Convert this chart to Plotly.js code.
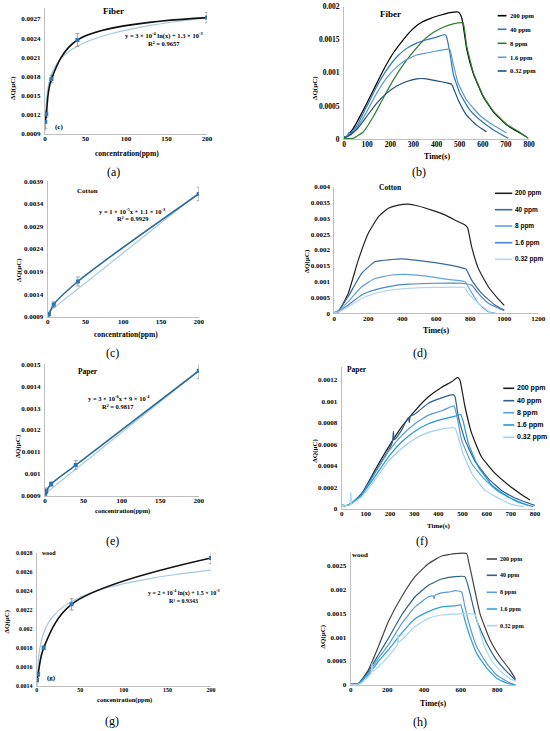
<!DOCTYPE html>
<html><head><meta charset="utf-8">
<script src="https://cdn.plot.ly/plotly-3.0.1.min.js"></script>
<style>html,body{margin:0;padding:0;background:#fff}#plot{width:550px;height:731px}</style>
</head><body><div id="plot"></div>
<script>
// ---------- data: calibration panels ----------
const conc = [0.32, 1.6, 8, 40, 200];
const fiberQ = [0.00109, 0.00121, 0.00176, 0.00237, 0.00272];
const fiberErr = [0.0001, 0.00005, 0.00006, 0.0001, 0.00008];
const cottonQ = [0.00092, 0.00096, 0.00117, 0.00168, 0.00362];
const cottonErr = [0.00002, 0.00003, 0.00006, 0.0001, 0.00015];
const paperQ = [0.000905, 0.00092, 0.000953, 0.00104, 0.00147];
const paperErr = [0.00003, 0.00001, 0.00001, 0.00002, 0.000034];
const woodQ = [0.00146, 0.00152, 0.0018, 0.00226, 0.00275];
const woodErr = [0.00002, 0.00002, 0.00002, 0.00006, 0.00006];

const logTrendX = [0.32,0.6,1,1.6,2.5,4,6,8,12,16,20,30,40,60,80,100,130,160,200];
const fiberTrendY = [0.000946,0.001119,0.001259,0.001388,0.001511,0.00164,0.001752,0.001831,0.001942,0.002022,0.002083,0.002194,0.002273,0.002385,0.002464,0.002525,0.002598,0.002655,0.002716];
const woodTrendY = [0.001294,0.001424,0.001529,0.001626,0.001718,0.001815,0.001899,0.001958,0.002042,0.002101,0.002147,0.002231,0.00229,0.002374,0.002433,0.002479,0.002533,0.002576,0.002622];
const linTrendX = [0.32, 200];
const cottonTrendY = [0.00099, 0.00364];
const paperTrendY = [0.00091, 0.00147];

// ---------- data: time responses ----------
const seriesNames = ['200 ppm','40 ppm','8 ppm','1.6 ppm','0.32 ppm'];

const fib200T = [0,11,40,84,127,170,213,256,285,329,372,415,458,494,505,513,531,559,602,646,704,761,790];
const fib200V = [0.00002,0.00004,0.00016,0.00044,0.00074,0.00104,0.0013,0.0015,0.00162,0.00175,0.00182,0.00187,0.00191,0.00192,0.00187,0.00177,0.00135,0.00099,0.00064,0.00041,0.00021,0.00009,0.00003];
const fib40T = [0,11,54,98,141,184,228,271,314,357,400,436,443,458,472,501,544,587,645,710];
const fib40V = [0.00003,0.00003,0.00019,0.00049,0.00079,0.00104,0.00124,0.00137,0.00145,0.0015,0.00154,0.00158,0.00155,0.0013,0.00099,0.00069,0.00044,0.00029,0.00014,0.00001];
const fib8T = [0,40,84,127,170,213,256,300,343,386,429,472,508,516,531,559,602,646,704,761,797];
const fib8V = [0.00001,0.00001,0.00011,0.00034,0.00062,0.00089,0.00112,0.00132,0.00149,0.00161,0.00169,0.00174,0.00176,0.00175,0.0014,0.00101,0.00065,0.00042,0.00022,0.0001,0.00001];
const fib1p6T = [0,15,20,30,54,98,141,184,228,271,314,357,400,450,458,472,494,530,587,645,703];
const fib1p6V = [0.00003,0.00004,0.0001,0.00006,0.00016,0.00041,0.00069,0.00092,0.00109,0.0012,0.00127,0.0013,0.00133,0.00136,0.00135,0.00114,0.00084,0.00059,0.00036,0.00021,0.00009];
const fib032T = [0,11,54,98,141,184,228,271,314,357,400,443,465,472,494,530,573,616];
const fib032V = [0.00003,0.00003,0.00014,0.00034,0.00054,0.00069,0.0008,0.00087,0.00091,0.00091,0.00088,0.00085,0.00083,0.00078,0.00059,0.00036,0.00021,0.00011];

const cot200T = [0,24,82,141,200,259,318,377,435,494,573,651,729,769,784,808,847,906,965,1000];
const cot200V = [0.00002,0.00005,0.00063,0.00168,0.00253,0.00305,0.00332,0.00342,0.00345,0.00339,0.00326,0.00311,0.00289,0.00279,0.0027,0.0021,0.00142,0.00084,0.00045,0.00025];
const cot40T = [0,24,82,161,239,337,396,475,592,710,775,808,867,945,1000];
const cot40V = [0.00002,0.00008,0.00053,0.00126,0.00163,0.0017,0.00172,0.00168,0.0016,0.00149,0.00139,0.00105,0.00063,0.00026,0.0001];
const cot8T = [0,24,82,161,239,337,416,533,671,769,798,847,906,950];
const cot8V = [0.00002,0.00007,0.00037,0.00084,0.0011,0.00121,0.00123,0.00118,0.00107,0.001,0.00074,0.00032,0.00005,0];
const cot1p6T = [0,24,82,161,239,337,435,592,749,808,847,906,1000];
const cot1p6V = [0.00002,0.00005,0.00026,0.00058,0.00074,0.00086,0.00092,0.00095,0.00095,0.00089,0.00063,0.00032,0.00008];
const cot032T = [0,24,82,161,239,337,435,592,769,788,847,925];
const cot032V = [0.00002,0.00004,0.00021,0.00047,0.00063,0.00074,0.00079,0.00082,0.00081,0.00063,0.00032,0];

const pap200T = [0,20,41,83,138,193,248,303,359,414,455,480,490,510,538,579,634,690,745,779];
const pap200V = [0.00003,0.00003,0.00005,0.00014,0.00036,0.00057,0.00076,0.00091,0.00104,0.00113,0.00118,0.00122,0.00119,0.00095,0.0007,0.00048,0.00033,0.00022,0.00013,0.00008];
const pap40T = [0,20,41,83,138,193,210,214,218,248,276,280,284,303,359,414,462,469,483,510,552,607,662,717,800];
const pap40V = [0.00003,0.00003,0.00005,0.00014,0.00034,0.00054,0.00062,0.00072,0.00064,0.00073,0.00085,0.0008,0.00086,0.00088,0.00098,0.00103,0.00106,0.00104,0.00085,0.00064,0.00044,0.00028,0.00017,0.0001,0.00003];
const pap8T = [0,20,41,83,138,193,248,303,359,414,455,465,476,496,538,593,648,717,772];
const pap8V = [0.00003,0.00003,0.00005,0.00013,0.00033,0.00053,0.00068,0.00079,0.00087,0.00091,0.00095,0.000955,0.00087,0.00064,0.00042,0.00027,0.00016,0.00008,0.00003];
const pap1p6T = [0,20,41,83,138,193,248,303,359,414,469,492,503,524,565,621,676,731,793];
const pap1p6V = [0.00003,0.00003,0.00005,0.00013,0.0003,0.00048,0.00062,0.00072,0.00079,0.00083,0.00086,0.000875,0.00081,0.00061,0.00039,0.00022,0.00013,0.00006,0.00002];
const pap032T = [0,20,36,38,41,83,138,193,248,303,359,414,469,480,503,538,593,648,703,752];
const pap032V = [0.00003,0.00003,0.00004,0.00015,0.00005,0.00011,0.00027,0.00044,0.00056,0.00065,0.00071,0.00074,0.00075,0.00068,0.00051,0.00033,0.00017,0.0001,0.00004,0.00002];

const wood200T = [0,42,96,151,205,278,351,424,496,569,633,642,669,705,760,814,869,900];
const wood200V = [0.00002,0.00003,0.00031,0.0008,0.00132,0.00184,0.00226,0.00253,0.00269,0.00274,0.00274,0.0026,0.00212,0.00149,0.00094,0.00059,0.00031,0.00012];
const wood40T = [0,42,96,151,205,278,351,424,496,569,623,651,687,742,796,851,900];
const wood40V = [0.00002,0.00003,0.00028,0.00063,0.00097,0.00146,0.00184,0.00208,0.00221,0.00226,0.00226,0.00191,0.00135,0.00087,0.00052,0.00028,0.0001];
const wood8T = [0,42,96,151,205,278,351,424,450,455,460,496,550,569,605,623,651,687,742,796,869,900];
const wood8V = [0.00002,0.00002,0.00024,0.00056,0.00083,0.00128,0.00163,0.00184,0.00186,0.0018,0.00187,0.00192,0.00195,0.00197,0.00194,0.00163,0.00121,0.0008,0.00045,0.00021,0.00004,0];
const wood1p6T = [0,42,96,151,205,278,351,424,496,569,600,623,651,687,742,796,851,900];
const wood1p6V = [0.00002,0.00003,0.00021,0.00049,0.00073,0.00108,0.00138,0.00153,0.00163,0.00165,0.00167,0.00135,0.00101,0.00066,0.00035,0.00014,0.00004,0];
const wood032T = [0,50,96,112,116,122,151,205,255,258,262,278,351,424,496,569,640,678,700,730,770,820,870,905];
const wood032V = [0.00001,0.00002,0.00017,0.00026,0.00045,0.00028,0.00038,0.00059,0.00085,0.00105,0.0009,0.00094,0.00122,0.00139,0.00146,0.00148,0.00149,0.00147,0.00118,0.0008,0.0005,0.00028,0.00013,0.00007];

// ---------- tick labels ----------
const concTicks = [0, 50, 100, 150, 200];
const fiberYTicks = ['0.0009','0.0012','0.0015','0.0018','0.0021','0.0024','0.0027'];
const cottonYTicks = ['0.0009','0.0014','0.0019','0.0024','0.0029','0.0034','0.0039'];
const paperYTicks = ['0.0009','0.001','0.0011','0.0012','0.0013','0.0014','0.0015'];
const woodYTicks = ['0.0014','0.0016','0.0018','0.002','0.0022','0.0024','0.0026','0.0028'];
const fibTimeYTicks = ['0','0.0005','0.001','0.0015','0.002'];
const cotTimeYTicks = ['0','0.0005','0.001','0.0015','0.002','0.0025','0.003','0.0035','0.004'];
const papTimeYTicks = ['0','0.0002','0.0004','0.0006','0.0008','0.001','0.0012'];
const woodTimeYTicks = ['0','0.0005','0.001','0.0015','0.002','0.0025'];
const fibTimeXTicks = [0,100,200,300,400,500,600,700,800];
const cotTimeXTicks = [0,200,400,600,800,1000,1200];
const papTimeXTicks = [0,100,200,300,400,500,600,700,800];
const woodTimeXTicks = [0,200,400,600,800];

// ---------- helpers ----------
const W = 550, H = 731;
const SERIF = 'Liberation Serif, Times New Roman, serif';
const SANS = 'Liberation Sans, Arial, sans-serif';
const PX = x => x / W;
const PY = y => 1 - y / H;

const layout = {
  width: W, height: H, margin: {l:0, r:0, t:0, b:0},
  paper_bgcolor: '#fff', plot_bgcolor: 'rgba(0,0,0,0)',
  showlegend: false, annotations: [], shapes: []
};
const traces = [];

function axisBase(size, standoff) {
  return {showline:true, linecolor:'#BFBFBF', linewidth:1, showgrid:false, zeroline:false,
          ticks:'', ticklabelstandoff:standoff, fixedrange:true,
          tickfont:{family:SERIF, size:size||7, color:'#000', weight:'bold'}};
}
function addAxes(n, xpx, ypx, xr, yr, xt, yTxt, tsize) {
  const xs = n === 1 ? '' : String(n);
  const xa = Object.assign(axisBase(tsize, -2), {domain:[PX(xpx[0]), PX(xpx[1])], range:xr,
      anchor:'y'+xs, tickmode:'array', tickvals:xt, ticktext:xt.map(String)});
  const ya = Object.assign(axisBase(tsize, 2), {domain:[PY(ypx[1]), PY(ypx[0])], range:yr,
      anchor:'x'+xs, tickmode:'array', tickvals:yTxt.map(Number), ticktext:yTxt});
  layout['xaxis'+xs] = xa; layout['yaxis'+xs] = ya;
  return {x:'x'+xs, y:'y'+xs};
}
function ann(text, x, y, size, opt) {
  layout.annotations.push(Object.assign({text, x:PX(x), y:PY(y), xref:'paper', yref:'paper',
    showarrow:false, xanchor:'center', yanchor:'middle',
    font:{family:SERIF, size:size, color:'#000'}}, opt || {}));
}
function bold(text, x, y, size, opt) {
  ann(text, x, y, size, Object.assign({font:{family:SERIF, size:size, color:'#000', weight:'bold'}}, opt||{}));
}
function legend(x0, x1, ys, colors, family, size) {
  ys.forEach((y, i) => {
    layout.shapes.push({type:'line', xref:'paper', yref:'paper', x0:PX(x0), x1:PX(x1), y0:PY(y), y1:PY(y),
      line:{color:colors[i], width:1.6}});
    ann(seriesNames[i], x1 + 1, y, size, {xanchor:'left',
      font:{family:family, size:size, color:'#000', weight:'bold'}});
  });
}

const MARK = '#2E75B6', TREND = '#A3C9E0';
function calib(ax, y, err, lineColor, tx, ty) {
  traces.push({x:tx, y:ty, xaxis:ax.x, yaxis:ax.y, mode:'lines', type:'scatter',
    line:{color:TREND, width:1.2, shape:'spline', smoothing:0.6}, hoverinfo:'skip'});
  traces.push({x:conc, y:y, xaxis:ax.x, yaxis:ax.y, mode:'lines+markers', type:'scatter',
    line:{color:lineColor, width:1.6, shape:'spline', smoothing:1},
    marker:{symbol:'square', size:4, color:MARK},
    error_y:{type:'data', array:err, visible:true, color:'#8C8C8C', thickness:0.8, width:2}});
}
function timeSeries(ax, list, colors) {
  list.forEach((s, i) => traces.push({x:s[0], y:s[1], xaxis:ax.x, yaxis:ax.y, mode:'lines', type:'scatter',
    name:seriesNames[i], line:{color:colors[i], width:1.2, shape:'spline', smoothing:0.4}}));
}

// ---------- (a) fiber calibration ----------
const A = addAxes(1, [45,207], [8,134], [0,200], [0.0009,0.00287], concTicks, fiberYTicks, 7);
calib(A, fiberQ, fiberErr, '#111111', logTrendX, fiberTrendY);
// ---------- (b) fiber time ----------
const B = addAxes(2, [344,529], [6.7,139], [0,800], [0,0.002], fibTimeXTicks, fibTimeYTicks, 7.5);
const bCol = ['#000000','#2E75B6','#2E7D32','#5B9BD5','#1F4E79'];
timeSeries(B, [[fib200T,fib200V],[fib40T,fib40V],[fib8T,fib8V],[fib1p6T,fib1p6V],[fib032T,fib032V]], bCol);
// ---------- (c) cotton calibration ----------
const C = addAxes(3, [47.7,198.7], [181.3,316.7], [0,200], [0.0009,0.0039], concTicks, cottonYTicks, 7);
calib(C, cottonQ, cottonErr, '#2B6C98', linTrendX, cottonTrendY);
// ---------- (d) cotton time ----------
const D = addAxes(4, [334.3,538.3], [186.7,313.3], [0,1200], [0,0.004], cotTimeXTicks, cotTimeYTicks, 7);
const dCol = ['#222222','#3A6A9C','#5DA5E8','#4D86C6','#B5D6F2'];
timeSeries(D, [[cot200T,cot200V],[cot40T,cot40V],[cot8T,cot8V],[cot1p6T,cot1p6V],[cot032T,cot032V]], dCol);
// ---------- (e) paper calibration ----------
const E = addAxes(5, [45,198.7], [364.3,495.7], [0,200], [0.0009,0.0015], concTicks, paperYTicks, 7);
calib(E, paperQ, paperErr, '#2B6C98', linTrendX, paperTrendY);
// ---------- (f) paper time ----------
const F = addAxes(6, [341.7,535], [366.7,508.7], [0,800], [0,0.00132], papTimeXTicks, papTimeYTicks, 7);
const fCol = ['#1A1A1A','#2F5F8F','#5B9BD5','#1F9AD6','#9DD1F2'];
timeSeries(F, [[pap200T,pap200V],[pap40T,pap40V],[pap8T,pap8V],[pap1p6T,pap1p6V],[pap032T,pap032V]], fCol);
// ---------- (g) wood calibration ----------
const G = addAxes(7, [36.7,211], [553.3,685.7], [0,200], [0.0014,0.0028], concTicks, woodYTicks, 6);
calib(G, woodQ, woodErr, '#111111', logTrendX, woodTrendY);
// ---------- (h) wood time ----------
const Hh = addAxes(8, [350.7,515.7], [551.7,685], [0,900], [0,0.00278], woodTimeXTicks, woodTimeYTicks, 7);
const hCol = ['#444444','#2E6282','#5B9BD5','#2F9FD8','#A8D8F0'];
timeSeries(Hh, [[wood200T,wood200V],[wood40T,wood40V],[wood8T,wood8V],[wood1p6T,wood1p6V],[wood032T,wood032V]], hCol);

// ---------- texts ----------
const YT = 'ΔQ(μC)';
[[13,88],[315,88],[19,270],[307.3,261],[18.3,446],[315,450.7],[6.7,621.7],[322.7,636.7]]
  .forEach(p => bold(YT, p[0], p[1], 7, {textangle:-90}));
bold('concentration(ppm)', 126.7, 153.5, 7.5);
bold('concentration(ppm)', 125.7, 334.5, 7.5);
bold('concentration(ppm)', 122.3, 511, 6.5);
bold('concentration(ppm)', 124, 700, 6.5);
bold('Time(s)', 437, 156, 8);
bold('Time(s)', 436, 330.5, 8);
bold('Time(s)', 438, 525.5, 7);
bold('Time(s)', 432.7, 703, 8);

[['(a)',113,172],['(b)',419,172],['(c)',112,353],['(d)',420,353],['(e)',112,541],['(f)',422,541],['(g)',112,721],['(h)',420,722]]
  .forEach(p => ann(p[0], p[1], p[2], 12));

bold('Fiber', 113, 11, 9);
bold('Fiber', 390.7, 14.3, 9);
bold('Cotton', 87, 191, 7);
bold('Cotton', 390, 187.3, 7.5);
bold('Paper', 88, 371, 7.5);
bold('Paper', 356.7, 369.3, 7.5);
bold('wood', 48.8, 553, 6);
bold('wood', 360, 555, 7);
bold('(c)', 59, 127, 7);
bold('(g)', 51.7, 677.7, 7);

bold('y = 3 × 10<sup>-4</sup> ln(x) + 1.3 × 10<sup>-3</sup>', 163.7, 35.5, 6.5);
bold('R² = 0.9657', 164, 43.5, 6.5);
bold('y = 1 × 10<sup>-5</sup>x + 1.1 × 10<sup>-3</sup>', 132.5, 210.7, 6.5);
bold('R² = 0.9929', 132.5, 218.5, 6.5);
bold('y = 3 × 10<sup>-6</sup>x + 9 × 10<sup>-4</sup>', 118.7, 398.3, 6.5);
bold('R² = 0.9817', 118.3, 406.3, 6.5);
bold('y = 2 × 10<sup>-4</sup> ln(x) + 1.5 × 10<sup>-3</sup>', 183.8, 592.8, 6);
bold('R² = 0.9343', 183.8, 601, 6);

// ---------- legends ----------
legend(497.7, 506.5, [15.7,29.3,43.3,57.3,71], bCol, SERIF, 6.5);
legend(495, 512.3, [193.3,209.7,226,242.7,259.3], dCol, SANS, 6.5);
legend(503.3, 514.3, [388.3,400.7,412.7,425,437.3], fCol, SANS, 7);
legend(486.7, 497, [559,575.3,592.3,609,625.7], hCol, SERIF, 6);

Plotly.newPlot('plot', traces, layout, {staticPlot:true, displayModeBar:false});
</script></body></html>
